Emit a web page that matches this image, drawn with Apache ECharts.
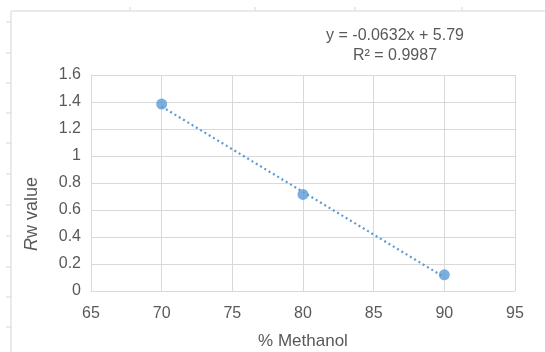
<!DOCTYPE html>
<html>
<head>
<meta charset="utf-8">
<script src="https://cdn.jsdelivr.net/npm/echarts@6/dist/echarts.min.js"></script>
<style>
  html, body { margin: 0; padding: 0; background: #fff; }
  #chart { width: 545px; height: 352px; }
</style>
</head>
<body>
<div id="chart"></div>
<script>
// Rw value measured at each methanol percentage
const methanolPct = [70, 80, 90];
const rwValues = [1.385, 0.715, 0.12];

// Linear trendline coefficients (as printed on the chart)
const trendSlope = -0.0632;
const trendIntercept = 5.79;
const trendR2 = '0.9987';
const trendRange = [70, 90];

const xTicks = { min: 65, max: 95, step: 5 };
const yTicks = { min: 0, max: 1.6, step: 0.2 };

const pointData = methanolPct.map((x, i) => [x, rwValues[i]]);
const trendData = trendRange.map(x => [x, trendSlope * x + trendIntercept]);
const equationText = 'y = ' + trendSlope + 'x + ' + trendIntercept + '\nR² = ' + trendR2;

const font = '"Liberation Sans", Arial, sans-serif';
const textColor = '#595959';
const gridColor = '#d9d9d9';
const blue = '#5B9BD5';

// light sheet-border lines around the chart
const frame = [];
frame.push({ type: 'line', shape: { x1: 11, y1: 11, x2: 545, y2: 11 }, style: { stroke: '#e3e3e3', lineWidth: 1.5 }, silent: true });
frame.push({ type: 'line', shape: { x1: 11, y1: 11, x2: 11, y2: 352 }, style: { stroke: '#e3e3e3', lineWidth: 1.5 }, silent: true });
[22, 53, 83, 113, 143, 174, 205, 236, 267, 297, 327].forEach(y => {
  frame.push({ type: 'line', shape: { x1: 6, y1: y, x2: 11, y2: y }, style: { stroke: '#d6d6d6', lineWidth: 1 }, silent: true });
});
[130, 255, 355, 462].forEach(x => {
  frame.push({ type: 'line', shape: { x1: x, y1: 7, x2: x, y2: 11 }, style: { stroke: '#d6d6d6', lineWidth: 1 }, silent: true });
});

const chart = echarts.init(document.getElementById('chart'), null, { renderer: 'canvas' });
chart.setOption({
  backgroundColor: '#ffffff',
  animation: false,
  grid: { left: 91, right: 30, top: 75, bottom: 61, containLabel: false, outerBoundsMode: 'none' },
  xAxis: {
    type: 'value',
    min: xTicks.min, max: xTicks.max, interval: xTicks.step,
    name: '% Methanol',
    nameLocation: 'middle',
    nameGap: 42,
    nameTextStyle: { fontFamily: font, fontSize: 17, color: textColor },
    axisLine: { show: true, lineStyle: { color: gridColor, width: 1 } },
    axisTick: { show: false },
    axisLabel: { fontFamily: font, fontSize: 16, color: textColor, margin: 15 },
    splitLine: { show: true, lineStyle: { color: gridColor, width: 1 } }
  },
  yAxis: {
    type: 'value',
    min: yTicks.min, max: yTicks.max, interval: yTicks.step,
    axisLine: { show: true, lineStyle: { color: gridColor, width: 1 } },
    axisTick: { show: false },
    axisLabel: {
      fontFamily: font, fontSize: 16, color: textColor, margin: 10,
      formatter: v => String(+v.toFixed(1))
    },
    splitLine: { show: true, lineStyle: { color: gridColor, width: 1 } }
  },
  graphic: frame.concat([
    {
      type: 'text',
      x: 395, y: 46,
      style: {
        text: equationText,
        font: '16px ' + font, fill: textColor, align: 'center', verticalAlign: 'middle', lineHeight: 20
      },
      silent: true
    },
    {
      type: 'text',
      x: 32, y: 214, rotation: Math.PI / 2,
      style: {
        text: '{i|R}w value',
        rich: {
          i: { font: 'italic 18px ' + font, fill: textColor }
        },
        font: '18px ' + font, fill: textColor, align: 'center', verticalAlign: 'middle'
      },
      silent: true
    }
  ]),
  series: [
    {
      name: 'Trendline',
      type: 'line',
      data: trendData,
      symbol: 'none',
      lineStyle: { color: blue, width: 2.2, type: [2, 3] },
      z: 2
    },
    {
      name: 'Rw',
      type: 'scatter',
      data: pointData,
      symbol: 'circle',
      symbolSize: 11,
      itemStyle: { color: blue },
      z: 3
    }
  ]
});
</script>
</body>
</html>
